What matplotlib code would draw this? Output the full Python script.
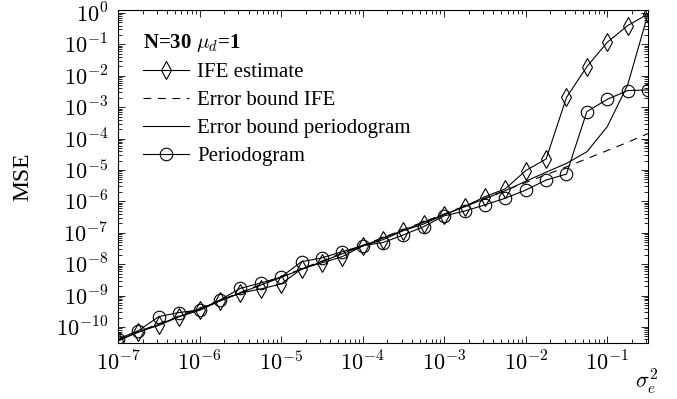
import numpy as np
import matplotlib
matplotlib.use("Agg")
import matplotlib.pyplot as plt
from matplotlib.ticker import LogLocator, NullFormatter, FuncFormatter

plt.rcParams['font.family'] = ['Liberation Serif', 'DejaVu Serif']
plt.rcParams['mathtext.fontset'] = 'cm'
plt.rcParams['font.size'] = 15

# noise variance sigma_e^2 (quarter-decade grid)
sigma2 = [1.00e-7, 1.78e-7, 3.16e-7, 5.62e-7,
          1.00e-6, 1.78e-6, 3.16e-6, 5.62e-6,
          1.00e-5, 1.78e-5, 3.16e-5, 5.62e-5,
          1.00e-4, 1.78e-4, 3.16e-4, 5.62e-4,
          1.00e-3, 1.78e-3, 3.16e-3, 5.62e-3,
          1.00e-2, 1.78e-2, 3.16e-2, 5.62e-2,
          1.00e-1, 1.78e-1, 3.16e-1]

mse_ife = [3.55e-11, 7.08e-11, 1.12e-10, 2.14e-10, 3.39e-10, 6.76e-10,
           1.20e-9, 1.62e-9, 2.34e-9, 7.08e-9, 1.10e-8, 1.74e-8,
           3.80e-8, 6.03e-8, 1.17e-7, 1.91e-7, 3.80e-7, 6.76e-7,
           1.41e-6, 2.51e-6, 9.55e-6, 2.24e-5, 2.04e-3, 1.95e-2,
           1.17e-1, 3.98e-1, 9.33e-1]

bound_ife = [3.98e-11, 7.08e-11, 1.26e-10, 2.24e-10, 3.98e-10, 7.08e-10,
             1.26e-9, 2.24e-9, 3.98e-9, 7.08e-9, 1.26e-8, 2.24e-8,
             3.98e-8, 7.08e-8, 1.26e-7, 2.24e-7, 3.98e-7, 7.08e-7,
             1.26e-6, 2.24e-6, 3.98e-6, 7.08e-6, 1.26e-5, 2.29e-5,
             4.17e-5, 7.59e-5, 1.45e-4]

bound_per = [3.80e-11, 6.80e-11, 1.21e-10, 2.15e-10, 3.80e-10, 6.80e-10,
             1.21e-9, 2.15e-9, 3.80e-9, 6.80e-9, 1.21e-8, 2.15e-8,
             3.80e-8, 6.80e-8, 1.21e-7, 2.15e-7, 3.80e-7, 6.80e-7,
             1.21e-6, 2.20e-6, 4.37e-6, 8.51e-6, 1.62e-5, 3.80e-5,
             2.40e-4, 5.13e-3, 9.33e-1]

mse_per = [4.17e-11, 7.59e-11, 2.14e-10, 2.88e-10, 3.47e-10, 7.24e-10,
           1.70e-9, 2.51e-9, 3.89e-9, 1.20e-8, 1.58e-8, 2.51e-8,
           3.89e-8, 4.90e-8, 8.51e-8, 1.58e-7, 3.47e-7, 4.90e-7,
           7.76e-7, 1.26e-6, 2.29e-6, 4.79e-6, 7.41e-6, 7.24e-4,
           1.78e-3, 3.39e-3, 3.55e-3]

fig = plt.figure(figsize=(6.77, 3.99), dpi=100)
ax = fig.add_axes([0.1743, 0.1404, 0.7829, 0.8346])

lw = 0.8
ax.plot(sigma2, mse_ife, color='black', lw=lw, marker='d', ms=9, mfc='none', mew=0.8,
        label='IFE estimate')
ax.plot(sigma2, bound_ife, color='black', lw=lw, ls=(0, (7, 6)), label='Error bound IFE')
ax.plot(sigma2, bound_per, color='black', lw=lw, label='Error bound periodogram')
ax.plot(sigma2, mse_per, color='black', lw=lw, marker='o', ms=9, mfc='none', mew=0.8,
        label='Periodogram')

ax.set_xscale('log')
ax.set_yscale('log')
ax.set_xlim(1e-7, 3.162e-1)
ax.set_ylim(3.09e-11, 1.25)

pow10 = FuncFormatter(lambda v, p: r'$10^{%d}$' % round(np.log10(v)))
for axis in (ax.xaxis, ax.yaxis):
    axis.set_major_locator(LogLocator(base=10, numticks=20))
    axis.set_minor_locator(LogLocator(base=10, subs=np.arange(2, 10), numticks=20))
    axis.set_major_formatter(pow10)
    axis.set_minor_formatter(NullFormatter())

ax.tick_params(which='both', direction='in', top=True, right=True, width=0.6)
ax.tick_params(which='major', length=5, labelsize=16)
ax.tick_params(axis='y', which='major', pad=7)
ax.tick_params(axis='x', which='major', pad=6)
ax.tick_params(which='minor', length=3)
for s in ax.spines.values():
    s.set_linewidth(0.8)

ax.set_ylabel('MSE', fontsize=17)
ax.yaxis.set_label_coords(-0.16, 0.5)
ax.set_xlabel(r'$\sigma_e^2$', fontsize=16)
ax.xaxis.set_label_coords(0.998, -0.07)

leg = ax.legend(loc='upper left', frameon=False, title=r'N=30 $\mu_d$=1',
                title_fontproperties={'weight': 'bold', 'size': 15},
                alignment='left', handlelength=2.2, handletextpad=0.4,
                labelspacing=0.4, borderaxespad=0.0, fontsize=15,
                bbox_to_anchor=(0.032, 0.958))

fig.savefig('out.png', dpi=100)
